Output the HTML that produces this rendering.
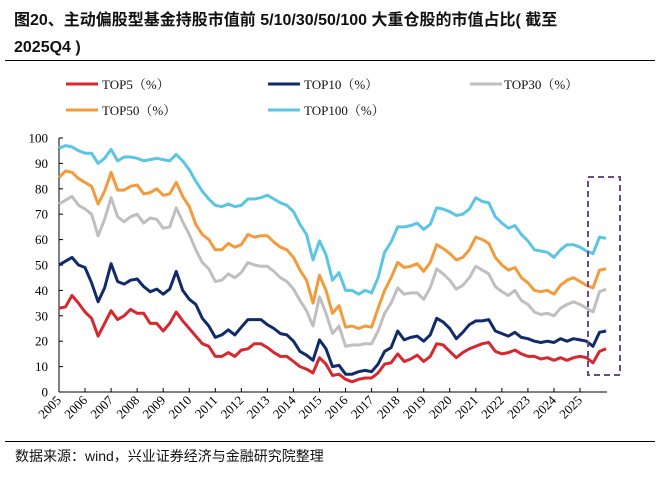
<!DOCTYPE html>
<html><head><meta charset="utf-8"><style>
body{margin:0;background:#fff;width:665px;height:479px;overflow:hidden;font-family:"Liberation Serif","Noto Serif CJK SC",serif}
</style></head><body>
<svg id="s" width="665" height="479" xmlns="http://www.w3.org/2000/svg">
<text x="14" y="25" font-family="Liberation Sans,Noto Sans CJK SC,sans-serif" font-weight="bold" font-size="16" fill="#111">图20、主动偏股型基金持股市值前 5/10/30/50/100 大重仓股的市值占比( 截至</text>
<text x="14" y="52" font-family="Liberation Sans,Noto Sans CJK SC,sans-serif" font-weight="bold" font-size="16" fill="#111">2025Q4 )</text>
<line x1="5" y1="60.5" x2="655" y2="60.5" stroke="#000" stroke-width="1"/>
<line x1="5" y1="441.5" x2="655" y2="441.5" stroke="#000" stroke-width="1"/>
<text x="15" y="461" font-family="Liberation Sans,Noto Sans CJK SC,sans-serif" font-size="14" fill="#111">数据来源：wind，兴业证券经济与金融研究院整理</text>
<g font-size="13" fill="#111">
<line x1="66" y1="84" x2="98" y2="84" stroke="#d7282f" stroke-width="3"/><text x="102" y="89">TOP5（%）</text>
<line x1="268" y1="84" x2="300" y2="84" stroke="#102a6b" stroke-width="3"/><text x="304" y="89">TOP10（%）</text>
<line x1="470" y1="84" x2="502" y2="84" stroke="#bfbfbf" stroke-width="3"/><text x="504" y="89">TOP30（%）</text>
<line x1="66" y1="110" x2="98" y2="110" stroke="#f39b3b" stroke-width="3"/><text x="102" y="115">TOP50（%）</text>
<line x1="268" y1="110" x2="300" y2="110" stroke="#5bc5e6" stroke-width="3"/><text x="304" y="115">TOP100（%）</text>
</g>
<g id="ax"></g>
<rect x="588" y="177" width="32" height="198" fill="none" stroke="#6a4a8c" stroke-width="2" stroke-dasharray="6,4"/>
</svg>
<script>
var X0=59,PX=26.05,Y0=392,PY=2.54;
var D={
c:"#5bc5e6",t100:[96,97,96.5,95,94,94,90,92,95.5,91,92.5,92.5,92,91,91.5,92,91.5,91,93.5,91,87.5,83,79,76,73.5,73,74,73,73.5,76,76,76.5,77.5,76,74.5,73.5,71,66,62,52,59.5,54,44,47,40,40,38.5,40,39,45,55,59,65,65,65.5,66.5,64,66,72.5,72,71,69.5,70,72,76.5,75,74.5,69,66.5,64.5,65.5,62,59.5,56,55.5,55,53,56,58,58,57,55.5,54.5,61,60.5],
o:[84.5,87,86.5,84,82.5,81,74,79,86.5,79.5,79.5,81,81.5,78,78.5,80,77.5,78,82.5,77,73,66,62,60,56,56,58.5,57,58,62,61,61.5,61.5,59,57,56,53,48,44,35,46,40,31,34,25.5,26,25,26,25.5,33,40,45,51,49,49.5,50.5,47.5,51,58,56.5,54.5,52,53,56,61,60,58.5,53,50,48,49,45,43,40,39.5,40,38.5,42,44,45,43.5,42,41,48,48.5],
g:[74,75.5,77,73.5,72,70,61.5,68,76.5,69,67,69,70,66.5,68.5,68,64.5,65,72.5,67,62,56,51,48.5,43.5,44,46.5,45,47,51,50,49.5,49.5,47.5,45,43.5,40.5,36,32,26,37.5,31,23,26,18,18.5,18.5,19,19,24,31,35,41,38.5,39,39,36.5,41,48.5,46.5,44,40.5,42,45,49.5,48,46.5,41.5,39.5,38,40,36,34.5,31.5,30.5,31,30,33,34.5,35.5,34.5,33,31.5,39.5,40.5],
n:[50,51.5,53,50,49,43,35.5,41,50.5,43.5,42.5,44,44.5,41.5,39.5,40.5,38.5,40.5,47.5,40,36.5,34.5,29,26,21.5,22.5,24.5,22.5,25.5,28.5,28.5,28.5,26.5,25,23,22.5,20,16,14.5,12.5,20.5,17,10,10.5,7,7,8,8.5,8,11,16,17.5,24,20.5,21.5,22,20,22.5,29,27.5,25,21,23.5,26.5,28,28,28.5,24,23,22,23.5,21.5,21,20,19.5,20,19.5,21,20,21,20.5,20,18,23.5,24],
r:[33,33.5,38,35,31.5,29,22,27,32,28.5,30,32.5,31,31,27,27,24,27,31.5,28,25,22,19,18,14,14,15.5,14,16.5,17,19,19,17.5,15.5,14,14,12,10,9,7.5,13.5,11,6.5,7,5,4,5,5.5,5.5,7.5,11,11.5,15,12,13,14.5,12,14,19,18.5,16,13.5,15.5,17,18,19,19.5,16,15,15.5,16.5,15,14,14,13,13.5,12.5,13.5,12.5,13.5,14,13.5,11.5,16,17]};
var s=document.getElementById('s'),ax=document.getElementById('ax'),h='';
h+='<line x1="'+X0+'" y1="138" x2="'+X0+'" y2="'+Y0+'" stroke="#000"/>';
h+='<line x1="'+X0+'" y1="'+Y0+'" x2="607" y2="'+Y0+'" stroke="#000"/>';
for(var v=0;v<=100;v+=10){var y=Y0-v*PY;h+='<line x1="'+X0+'" y1="'+y+'" x2="'+(X0+4)+'" y2="'+y+'" stroke="#000"/><text x="48" y="'+(y+4.5)+'" text-anchor="end" font-size="13">'+v+'</text>';}
for(var k=0;k<=20;k++){var x=X0+k*PX;if(k>0)h+='<line x1="'+x+'" y1="'+(Y0-4)+'" x2="'+x+'" y2="'+Y0+'" stroke="#000"/>';h+='<text transform="translate('+(x+3)+',401) rotate(-45)" text-anchor="end" font-size="13">'+(2005+k)+'</text>';}
[['r','#d7282f'],['n','#102a6b'],['g','#bfbfbf'],['o','#f39b3b'],['t100','#5bc5e6']].forEach(function(a){var arr=D[a[0]],p=[];for(var i=0;i<arr.length;i++)p.push((X0+i*PX/4).toFixed(1)+','+(Y0-arr[i]*PY).toFixed(1));h+='<polyline points="'+p.join(' ')+'" fill="none" stroke="'+a[1]+'" stroke-width="3" stroke-linejoin="round"/>';});
ax.innerHTML=h;
</script>
</body></html>
